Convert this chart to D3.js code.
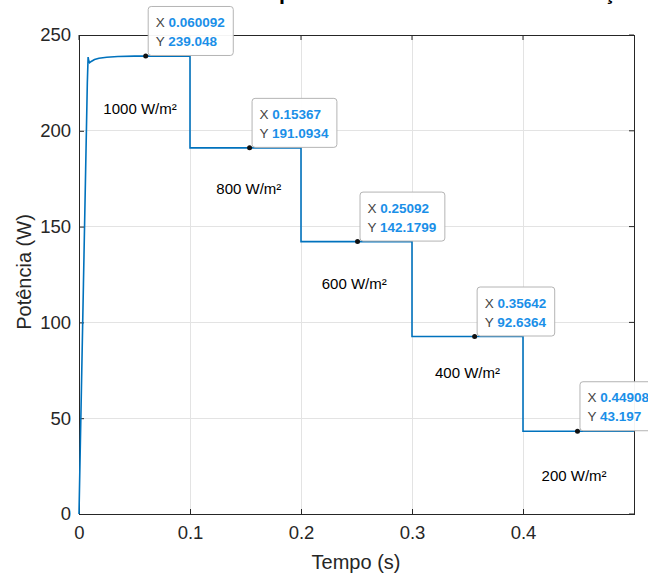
<!DOCTYPE html>
<html><head><meta charset="utf-8">
<script src="https://cdn.jsdelivr.net/npm/d3@7"></script>
<style>
html,body{margin:0;padding:0;background:#fff;}
svg{display:block;font-family:"Liberation Sans",Arial,Helvetica,sans-serif;}
</style></head>
<body>
<svg id="chart" width="648" height="574"></svg>
<script>
// ---- data ----
const titleText = "Potência para diferentes níveis de irradiação";
const xTicks = [0, 0.1, 0.2, 0.3, 0.4];
const yTicks = [0, 50, 100, 150, 200, 250];
// start-up transient
const startupTime  = [0, 0.002, 0.004, 0.006, 0.0075, 0.0082, 0.0088, 0.0095, 0.011, 0.014, 0.018, 0.025, 0.035, 0.05];
const startupPower = [0, 60, 120, 180, 225, 238.5, 236.5, 235.5, 236.2, 237.2, 237.9, 238.4, 238.8, 239.0];
// steady-state steps
const stepStart = [0.05, 0.1, 0.2, 0.3, 0.4];
const stepEnd   = [0.1, 0.2, 0.3, 0.4, 0.5];
const stepPower = [239.048, 191.0934, 142.1799, 92.6364, 43.197];
// data tips
const tipX = [0.060092, 0.15367, 0.25092, 0.35642, 0.44908];
const tipY = [239.048, 191.0934, 142.1799, 92.6364, 43.197];
const tipXText = ["0.060092", "0.15367", "0.25092", "0.35642", "0.44908"];
const tipYText = ["239.048", "191.0934", "142.1799", "92.6364", "43.197"];
// irradiance labels
const irrLabels = ["1000 W/m²", "800 W/m²", "600 W/m²", "400 W/m²", "200 W/m²"];
const irrLabelT = [0.055, 0.153, 0.248, 0.350, 0.446];
const irrLabelP = [209, 167, 117.5, 71, 17];

// ---- build line ----
const pts = startupTime.map((t, i) => [t, startupPower[i]]);
stepStart.forEach((s, i) => {
  if (i > 0) pts.push([s, stepPower[i]]);
  pts.push([stepEnd[i], stepPower[i]]);
  if (i < stepStart.length - 1) pts.push([stepEnd[i], stepPower[i + 1]]);
});

const svg = d3.select("#chart");
const L = 79, R = 634, T = 35, B = 514;
const x = d3.scaleLinear().domain([0, 0.5]).range([L, R]);
const y = d3.scaleLinear().domain([0, 250]).range([B, T]);

// title (clipped by top edge, as in the reference)
svg.append("text").attr("x", 183).attr("y", -0.5)
  .attr("textLength", 458).attr("lengthAdjust", "spacingAndGlyphs")
  .attr("font-size", 20).attr("font-weight", "bold").attr("fill", "#000")
  .text(titleText);

// grid
const g = svg.append("g");
g.selectAll(".gx").data(xTicks.filter(d => d > 0)).join("line")
  .attr("x1", d => x(d)).attr("x2", d => x(d)).attr("y1", T).attr("y2", B)
  .attr("stroke", "#e3e3e3").attr("stroke-width", 1).attr("shape-rendering", "crispEdges");
g.selectAll(".gy").data(yTicks.filter(d => d > 0 && d < 250)).join("line")
  .attr("x1", L).attr("x2", R).attr("y1", d => y(d)).attr("y2", d => y(d))
  .attr("stroke", "#e3e3e3").attr("stroke-width", 1).attr("shape-rendering", "crispEdges");

// axes
const axColor = "#262626";
const xAxis = svg.append("g").attr("transform", `translate(0,${B})`)
  .call(d3.axisBottom(x).tickValues(xTicks).tickSize(-5).tickPadding(12).tickFormat(d => d === 0 ? "0" : d3.format(".1f")(d)));
const yAxis = svg.append("g").attr("transform", `translate(${L},0)`)
  .call(d3.axisLeft(y).tickValues(yTicks).tickSize(-5).tickPadding(8).tickFormat(d3.format("d")));
[xAxis, yAxis].forEach(a => {
  a.select(".domain").remove();
  a.selectAll("line").attr("stroke", axColor);
  a.selectAll("text").attr("font-size", 18.5).attr("fill", "#262626").attr("font-family", "Liberation Sans, Arial, sans-serif");
});
// top/right ticks
svg.append("g").selectAll("line").data(xTicks).join("line")
  .attr("x1", d => x(d)).attr("x2", d => x(d)).attr("y1", T).attr("y2", T + 5).attr("stroke", axColor);
svg.append("g").selectAll("line").data(yTicks).join("line")
  .attr("x1", R).attr("x2", R - 5).attr("y1", d => y(d)).attr("y2", d => y(d)).attr("stroke", axColor);
// box
svg.append("rect").attr("x", L).attr("y", T).attr("width", R - L).attr("height", B - T)
  .attr("fill", "none").attr("stroke", axColor).attr("stroke-width", 1).attr("shape-rendering", "crispEdges");

// axis titles
svg.append("text").attr("x", 356).attr("y", 569).attr("text-anchor", "middle")
  .attr("font-size", 20).attr("fill", "#262626").text("Tempo (s)");
svg.append("text").attr("transform", "translate(31,272) rotate(-90)").attr("text-anchor", "middle")
  .attr("font-size", 20).attr("fill", "#262626").text("Potência (W)");

// data line
svg.append("path").datum(pts)
  .attr("d", d3.line().x(d => x(d[0])).y(d => y(d[1])))
  .attr("fill", "none").attr("stroke", "#0072BD").attr("stroke-width", 1.6);

// irradiance labels
svg.append("g").selectAll("text").data(irrLabels).join("text")
  .attr("x", (d, i) => x(irrLabelT[i])).attr("y", (d, i) => y(irrLabelP[i]))
  .attr("text-anchor", "middle").attr("font-size", 15).attr("fill", "#000").text(d => d);

// data tips
const tips = svg.append("g");
tipX.forEach((tx, i) => {
  const px = x(tx), py = y(tipY[i]);
  const tg = tips.append("g");
  const rect = tg.append("rect");
  const t1 = tg.append("text").attr("font-size", 13.5);
  t1.append("tspan").attr("fill", "#444").text("X ");
  t1.append("tspan").attr("fill", "#1a8fe8").attr("font-weight", "bold").text(tipXText[i]);
  const t2 = tg.append("text").attr("font-size", 13.5);
  t2.append("tspan").attr("fill", "#444").text("Y ");
  t2.append("tspan").attr("fill", "#1a8fe8").attr("font-weight", "bold").text(tipYText[i]);
  const w = Math.max(t1.node().getComputedTextLength(), t2.node().getComputedTextLength()) + 16;
  const h = 49;
  const bx = px + 2, by = py - 1 - h;
  rect.attr("x", bx + 0.5).attr("y", by + 0.5).attr("width", w).attr("height", h).attr("rx", 3)
    .attr("fill", "#fff").attr("fill-opacity", 0.95).attr("stroke", "#b4b4b4").attr("stroke-width", 1);
  t1.attr("x", bx + 8).attr("y", by + 21);
  t2.attr("x", bx + 8).attr("y", by + 40);
  tips.append("circle").attr("cx", px).attr("cy", py).attr("r", 2.5).attr("fill", "#111");
});
</script>
</body></html>
